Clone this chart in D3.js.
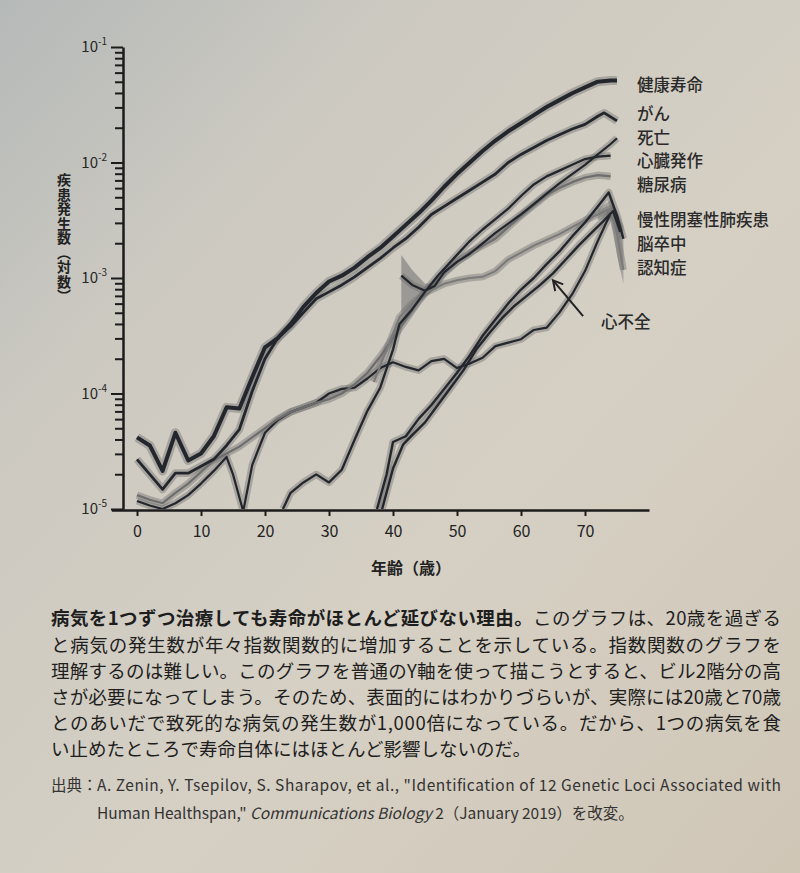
<!DOCTYPE html>
<html>
<head>
<meta charset="utf-8">
<script src="https://cdn.jsdelivr.net/npm/d3@7"></script>
<style>
body { margin: 0; background: #d3cdc1; }
svg { display: block; }
</style>
</head>
<body>
<svg id="chart" width="800" height="873"></svg>
<script>
// values are log10 of incidence
const healthAges = [0,2,4,6,8,10,12,14,16,18,20,22,24,26,28,30,32,34,36,38,40,42,44,46,48,50,52,54,56,58,60,62,64,66,68,70,72,74,75];
const healthLog  = [-4.38,-4.45,-4.67,-4.34,-4.58,-4.52,-4.37,-4.12,-4.13,-3.86,-3.60,-3.52,-3.40,-3.25,-3.13,-3.03,-2.98,-2.91,-2.82,-2.74,-2.64,-2.54,-2.44,-2.33,-2.21,-2.10,-2.00,-1.90,-1.81,-1.73,-1.66,-1.59,-1.52,-1.46,-1.40,-1.35,-1.30,-1.29,-1.29];

const cancerAges = [0,2,4,6,8,10,12,14,16,18,20,22,24,26,28,30,32,34,36,38,40,42,44,46,48,50,52,54,56,58,60,62,64,66,68,70,72,73,75];
const cancerLog  = [-4.57,-4.70,-4.83,-4.69,-4.69,-4.63,-4.57,-4.45,-4.31,-3.98,-3.70,-3.52,-3.42,-3.30,-3.18,-3.12,-3.06,-2.99,-2.91,-2.83,-2.74,-2.66,-2.56,-2.45,-2.38,-2.31,-2.24,-2.17,-2.10,-2.00,-1.93,-1.87,-1.81,-1.76,-1.71,-1.67,-1.60,-1.57,-1.64];

const deathAges = [41.3,43,45,46.5,48,50,52,54,56,58,60,62,64,66,68,70,72,74,75];
const deathLog  = [-2.98,-3.06,-3.11,-3.07,-2.95,-2.86,-2.79,-2.70,-2.61,-2.53,-2.45,-2.36,-2.27,-2.18,-2.10,-2.02,-1.93,-1.84,-1.79];
const deathBandAges = [41.3,43,45,46.5];
const deathBandHi   = [-2.80,-2.93,-3.05,-3.04];
const deathBandLo   = [-3.30,-3.22,-3.16,-3.10];

const miAges = [22.8,24,26,28,30,32,34,36,38,40,41,43,45,47,50,52,54,56,58,60,62,64,66,68,70,72,74];
const miLog  = [-5.0,-4.86,-4.77,-4.70,-4.77,-4.66,-4.40,-4.15,-3.95,-3.62,-3.40,-3.27,-3.12,-2.98,-2.80,-2.68,-2.58,-2.49,-2.40,-2.29,-2.19,-2.12,-2.07,-2.02,-1.97,-1.95,-1.94];

const diabAges = [0,2,4,6,8,10,12,14,16,18,20,22,24,26,28,30,32,34,36,38,40,42,44,46,48,50,52,54,56,58,60,62,64,66,68,70,72,74];
const diabLog  = [-4.88,-4.92,-4.95,-4.86,-4.78,-4.68,-4.58,-4.52,-4.46,-4.38,-4.30,-4.22,-4.16,-4.12,-4.08,-4.05,-4.00,-3.92,-3.82,-3.68,-3.52,-3.36,-3.20,-3.07,-2.96,-2.86,-2.78,-2.72,-2.66,-2.56,-2.46,-2.37,-2.28,-2.22,-2.17,-2.13,-2.11,-2.12];

const copdAges = [37.5,39,40,42,44,46,48,50,52,54,56,58,60,62,64,66,68,70,72,73.7,75,76];
const copdLog  = [-5.0,-4.70,-4.42,-4.37,-4.22,-4.10,-3.96,-3.82,-3.67,-3.50,-3.36,-3.22,-3.10,-3.00,-2.88,-2.77,-2.64,-2.52,-2.38,-2.26,-2.46,-2.66];

const strokeAges = [0,2,4,6,8,10,12,14,15,16.6,18,20,22,24,26,28,30,32,34,36,38,40,42,44,46,48,50,52,54,56,58,60,62,64,66,68,70,72,74];
const strokeLog  = [-4.93,-4.97,-5.0,-4.95,-4.88,-4.78,-4.67,-4.55,-4.70,-5.02,-4.62,-4.34,-4.23,-4.16,-4.12,-4.08,-4.00,-3.96,-3.95,-3.87,-3.78,-3.73,-3.77,-3.80,-3.72,-3.70,-3.78,-3.74,-3.69,-3.59,-3.56,-3.53,-3.45,-3.43,-3.30,-3.14,-2.94,-2.68,-2.44];

const dementiaAges = [37,39,41,43,45,48,50,52,54,56,58,60,62,64,66,68,70,72,74,75,76];
const dementiaLog  = [-3.90,-3.62,-3.34,-3.22,-3.13,-3.05,-3.02,-3.00,-2.99,-2.94,-2.84,-2.78,-2.72,-2.67,-2.62,-2.56,-2.50,-2.45,-2.40,-2.62,-2.93];
const dementiaBandAges = [72,74,75,76];
const dementiaBandHi   = [-2.40,-2.33,-2.42,-2.55];
const dementiaBandLo   = [-2.50,-2.48,-2.80,-3.05];

const hfAges = [38.3,40,41.6,43,45,47,49,51,53,55,57,59,61,63,65,67,69,71,73,74.4,75.5];
const hfLog  = [-5.0,-4.65,-4.44,-4.36,-4.25,-4.10,-3.95,-3.80,-3.62,-3.48,-3.35,-3.24,-3.15,-3.06,-2.96,-2.84,-2.72,-2.61,-2.50,-2.42,-2.60];

const xTicks = [0,10,20,30,40,50,60,70];
const yDecades = [-5,-4,-3,-2,-1];

const labelNames = ["健康寿命","がん","死亡","心臓発作","糖尿病","慢性閉塞性肺疾患","脳卒中","認知症"];

const captionLines = [
  "と病気の発生数が年々指数関数的に増加することを示している。指数関数のグラフを",
  "理解するのは難しい。このグラフを普通のY軸を使って描こうとすると、ビル2階分の高",
  "さが必要になってしまう。そのため、表面的にはわかりづらいが、実際には20歳と70歳",
  "とのあいだで致死的な病気の発生数が1,000倍になっている。だから、1つの病気を食",
  "い止めたところで寿命自体にはほとんど影響しないのだ。"
];

// General
let chart = d3.select("#chart");
const font = "'Noto Sans CJK JP', 'Noto Sans', sans-serif";
const ink = "#23272d";

// paper background
let grad = chart.append("defs").append("linearGradient")
    .attr("id", "paper").attr("x1", 0).attr("y1", 0).attr("x2", 1).attr("y2", 1);
grad.append("stop").attr("offset", "0%").attr("stop-color", "#b5b9b8");
grad.append("stop").attr("offset", "25%").attr("stop-color", "#ccc9c1");
grad.append("stop").attr("offset", "60%").attr("stop-color", "#d6d0c4");
grad.append("stop").attr("offset", "100%").attr("stop-color", "#cfc6b6");
chart.append("rect").attr("width", 800).attr("height", 873).attr("fill", "url(#paper)");

chart.select("defs").append("clipPath").attr("id", "plotclip")
    .append("rect").attr("x", 124).attr("y", 30).attr("width", 540).attr("height", 479);

// scales
let x = d3.scaleLinear()
    .domain([-4, 80])
    .range([111.4, 649]);
let y = d3.scaleLog()
    .domain([1e-5, 1e-1])
    .range([509, 47]);

const pow = v => Math.pow(10, v);
const pairs = (a, v) => a.map((d, i) => [d, v[i]]);

let line = d3.line()
    .x(d => x(d[0]))
    .y(d => y(pow(d[1])));
let band = d3.area()
    .x(d => x(d[0]))
    .y0(d => y(pow(d[1])))
    .y1(d => y(pow(d[2])));

let plot = chart.append("g").attr("clip-path", "url(#plotclip)");

// series: [ages, values, line colour, width]
let series = [
    [strokeAges, strokeLog, ink, 2.2],
    [diabAges, diabLog, "#6e6e6e", 2.2],
    [dementiaAges, dementiaLog, "#7a7a7a", 2.0],
    [miAges, miLog, ink, 2.3],
    [copdAges, copdLog, ink, 2.4],
    [hfAges, hfLog, ink, 2.4],
    [deathAges, deathLog, ink, 2.2],
    [cancerAges, cancerLog, ink, 2.8],
    [healthAges, healthLog, ink, 4.0]
];

// confidence bands first
plot.append("path")
    .datum(deathBandAges.map((d, i) => [d, deathBandLo[i], deathBandHi[i]]))
    .attr("d", band)
    .attr("fill", "#6f6f6f").attr("fill-opacity", 0.55);
plot.append("path")
    .datum(dementiaBandAges.map((d, i) => [d, dementiaBandLo[i], dementiaBandHi[i]]))
    .attr("d", band)
    .attr("fill", "#777").attr("fill-opacity", 0.5);

series.forEach(s => {
    plot.append("path")
        .datum(pairs(s[0], s[1]))
        .attr("fill", "none")
        .attr("stroke", "#6a6a6a")
        .attr("stroke-opacity", 0.4)
        .attr("stroke-width", s[3] + 5)
        .attr("stroke-linejoin", "round")
        .attr("d", line);
});
series.forEach(s => {
    plot.append("path")
        .datum(pairs(s[0], s[1]))
        .attr("fill", "none")
        .attr("stroke", s[2])
        .attr("stroke-width", s[3])
        .attr("stroke-linejoin", "round")
        .attr("d", line);
});

// y axis (log)
let minor = [];
yDecades.slice(0, 4).forEach(e => { for (let k = 2; k <= 9; k++) minor.push(k * pow(e)); });
let yMinor = chart.append("g")
    .attr("transform", "translate(123,0)")
    .call(d3.axisLeft(y).tickValues(minor).tickSize(8).tickFormat("").tickSizeOuter(0));
let yMajor = chart.append("g")
    .attr("transform", "translate(123,0)")
    .call(d3.axisLeft(y).tickValues(yDecades.map(pow)).tickSize(12).tickFormat("").tickSizeOuter(0));
chart.selectAll(".tick line").attr("stroke", "#1c1c1c").attr("stroke-width", 2);
yMajor.select(".domain").attr("stroke", "#1c1c1c").attr("stroke-width", 2.5);
yMinor.select(".domain").remove();

chart.selectAll("ylab")
    .data(yDecades)
    .enter()
    .append("text")
    .attr("x", 107)
    .attr("y", d => y(pow(d)) + 5)
    .attr("text-anchor", "end")
    .style("font-family", font)
    .style("font-size", "15px")
    .style("fill", "#262626")
    .each(function(d) {
        d3.select(this).append("tspan").text("10");
        d3.select(this).append("tspan").text("-" + Math.abs(d))
            .attr("dy", -7).style("font-size", "10px");
    });

// x axis
let xAxisGroup = chart.append("g")
    .attr("transform", "translate(0,510)")
    .call(d3.axisBottom(x).tickValues(xTicks).tickSize(6).tickSizeOuter(0));
xAxisGroup.select(".domain").attr("stroke", "#1c1c1c").attr("stroke-width", 2.5);
xAxisGroup.selectAll(".tick line").attr("stroke", "#1c1c1c").attr("stroke-width", 2);
xAxisGroup.selectAll("text")
    .attr("y", 16)
    .style("font-family", font)
    .style("font-size", "16px")
    .style("fill", "#222");

chart.append("text")
    .text("年齢（歳）")
    .attr("x", 411)
    .attr("y", 574)
    .attr("text-anchor", "middle")
    .style("font-family", font)
    .style("font-size", "16px")
    .style("font-weight", 600)
    .style("fill", "#222");

// vertical y title
chart.append("text")
    .text("疾患発生数（対数）")
    .attr("x", 64)
    .attr("y", 173)
    .style("writing-mode", "vertical-rl")
    .style("letter-spacing", "0.5px")
    .style("font-family", font)
    .style("font-size", "14px")
    .style("font-weight", 600)
    .style("fill", "#222");

// series labels on the right
const labelY = [84, 113, 137, 160, 184, 219, 243, 267];
chart.selectAll("mylabels")
    .data(labelNames)
    .enter()
    .append("text")
    .attr("x", 637)
    .attr("y", (d, i) => labelY[i])
    .attr("dominant-baseline", "central")
    .style("font-family", font)
    .style("font-size", "16.5px")
    .style("font-weight", 500)
    .style("fill", "#2a2a2a")
    .text(d => d);

// heart failure annotation (data units)
const hfTip = [65, -3.02], hfTail = [69.7, -3.33], hfText = [72.5, -3.37];
let tx = x(hfTip[0]), ty = y(pow(hfTip[1]));
let sx = x(hfTail[0]), sy = y(pow(hfTail[1]));
let ang = Math.atan2(sy - ty, sx - tx);
chart.append("line")
    .attr("x1", sx).attr("y1", sy).attr("x2", tx).attr("y2", ty)
    .attr("stroke", "#222").attr("stroke-width", 2);
chart.append("path")
    .attr("d", "M" + (tx + 11 * Math.cos(ang - 0.5)) + "," + (ty + 11 * Math.sin(ang - 0.5)) +
               "L" + tx + "," + ty +
               "L" + (tx + 11 * Math.cos(ang + 0.5)) + "," + (ty + 11 * Math.sin(ang + 0.5)))
    .attr("fill", "none").attr("stroke", "#222").attr("stroke-width", 2);
chart.append("text")
    .text("心不全")
    .attr("x", x(hfText[0]))
    .attr("y", y(pow(hfText[1])))
    .attr("dominant-baseline", "central")
    .style("font-family", font)
    .style("font-size", "16.5px")
    .style("font-weight", 500)
    .style("fill", "#2a2a2a");

// caption
let cap = chart.append("g")
    .style("font-family", font)
    .style("font-size", "18.5px")
    .style("fill", "#1e1e1e");
let first = cap.append("text")
    .attr("x", 51).attr("y", 625)
    .attr("textLength", 730).attr("lengthAdjust", "spacing");
first.append("tspan").text("病気を1つずつ治療しても寿命がほとんど延びない理由。").style("font-weight", 700);
first.append("tspan").text("このグラフは、20歳を過ぎる");

cap.selectAll("caplines")
    .data(captionLines)
    .enter()
    .append("text")
    .attr("x", 51)
    .attr("y", (d, i) => 651.5 + i * 26.2)
    .attr("textLength", (d, i) => i < 4 ? 730 : null)
    .attr("lengthAdjust", "spacing")
    .text(d => d);

// source
let src = chart.append("g")
    .style("font-family", font)
    .style("font-size", "15.5px")
    .style("fill", "#333");
src.append("text").attr("x", 51).attr("y", 791).text("出典：");
src.append("text").attr("x", 97).attr("y", 791)
    .attr("textLength", 684).attr("lengthAdjust", "spacing")
    .text("A. Zenin, Y. Tsepilov, S. Sharapov, et al., \"Identification of 12 Genetic Loci Associated with");
let s2 = src.append("text").attr("x", 97).attr("y", 819);
s2.append("tspan").text("Human Healthspan,\" ");
s2.append("tspan").text("Communications Biology").style("font-style", "italic");
s2.append("tspan").text(" 2（January 2019）を改変。");
</script>
</body>
</html>
